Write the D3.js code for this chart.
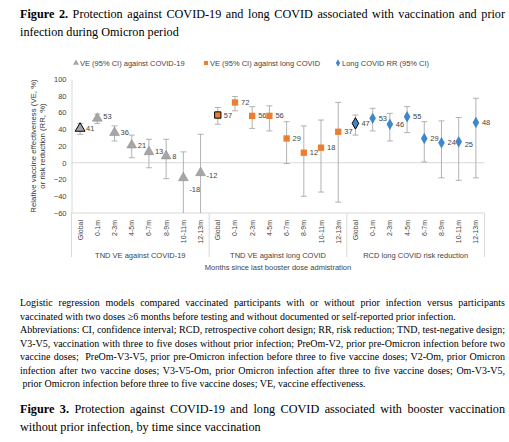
<!DOCTYPE html>
<html>
<head>
<meta charset="utf-8">
<script src="https://d3js.org/d3.v7.min.js"></script>
<style>
body { margin:0; background:#fff; }
.p { font-family:"Liberation Serif", serif; font-size:10px; color:#000; position:absolute; left:20px; width:485px; line-height:13.5px; text-align:justify; }
.t { font-size:12.2px; line-height:18px; }
</style>
</head>
<body>
<div class="p t" style="top:5px"><b>Figure 2.</b> Protection against COVID-19 and long COVID associated with vaccination and prior infection during Omicron period</div>
<div id="chart" style="position:absolute;left:0;top:50px"></div>
<div class="p" style="top:296px">Logistic regression models compared vaccinated participants with or without prior infection versus participants vaccinated with two doses &ge;6 months before testing and without documented or self-reported prior infection.<br>Abbreviations: CI, confidence interval; RCD, retrospective cohort design; RR, risk reduction; TND, test-negative design; V3-V5, vaccination with three to five doses without prior infection; PreOm-V2, prior pre-Omicron infection before two vaccine doses; &nbsp;PreOm-V3-V5, prior pre-Omicron infection before three to five vaccine doses; V2-Om, prior Omicron infection after two vaccine doses; V3-V5-Om, prior Omicron infection after three to five vaccine doses; Om-V3-V5, &nbsp;prior Omicron infection before three to five vaccine doses; VE, vaccine effectiveness.</div>
<div class="p t" style="top:400px"><b>Figure 3.</b> Protection against COVID-19 and long COVID associated with booster vaccination without prior infection, by time since vaccination</div>
<script>
var periods = ["Global","0-1m","2-3m","4-5m","6-7m","8-9m","10-11m","12-13m"];
var groups = ["TND VE against COVID-19","TND VE against long COVID","RCD long COVID risk reduction"];
var legendNames = ["VE (95% CI) against COVID-19","VE (95% CI) against long COVID","Long COVID RR (95% CI)"];
var covidVal = [41,53,36,21,13,8,-18,-12];
var covidLo  = [34,47,26,6,-6,-19,-60,-60];
var covidHi  = [47,58,44,33,28,28,13,34];
var longVal = [57,72,56,56,29,12,18,37];
var longLo  = [46,62,41,38,-1,-40,-35,-47];
var longHi  = [66,79,67,68,49,44,51,72];
var rrVal = [47,53,46,55,29,24,25,48];
var rrLo  = [33,38,26,36,1,-18,-21,-18];
var rrHi  = [57,65,59,67,49,50,54,77];
var yTicks = [100,80,60,40,20,0,-20,-40,-60];

var w = 509, h = 240;
var svg = d3.select("#chart").append("svg").attr("width", w).attr("height", h)
  .style("font-family","Liberation Sans, Arial, sans-serif");

var keys = [];
groups.forEach(function(g, gi){ periods.forEach(function(p){ keys.push(gi + "|" + p); }); });
var x = d3.scaleBand().domain(keys).range([71.5, 484.5]);
var y = d3.scaleLinear().domain([-60,100]).range([163, 29]);

var ya = svg.append("g").attr("transform","translate(71.5,0)")
  .call(d3.axisLeft(y).tickValues(yTicks).tickSize(0).tickPadding(5));
ya.select(".domain").attr("stroke","#d9d9d9");
ya.selectAll("text").attr("font-size","7.5px").attr("fill","#444");
svg.append("line").attr("x1",71.5).attr("x2",484.5).attr("y1",y(0)).attr("y2",y(0)).attr("stroke","#d9d9d9");

svg.append("line").attr("x1",71.5).attr("x2",484.5).attr("y1",163).attr("y2",163).attr("stroke","#d9d9d9");
keys.forEach(function(k){
  var cx = x(k) + x.bandwidth()/2;
  svg.append("text").attr("transform","translate(" + (cx+2.5) + ",170) rotate(-90)")
    .attr("text-anchor","end").attr("font-size","7px").attr("fill","#444").text(k.split("|")[1]);
});
[0,1,2,3].forEach(function(i){
  var xx = i < 3 ? x(i + "|Global") : 484.5;
  svg.append("line").attr("x1",xx).attr("x2",xx).attr("y1",163).attr("y2",207).attr("stroke","#d9d9d9");
});
groups.forEach(function(g, gi){
  var x0 = x(gi + "|Global"), x1 = x(gi + "|12-13m") + x.bandwidth();
  svg.append("text").attr("x",(x0+x1)/2).attr("y",208).attr("text-anchor","middle")
    .attr("font-size","7.5px").attr("fill","#444").text(g);
});
svg.append("text").attr("x",278).attr("y",220).attr("text-anchor","middle")
  .attr("font-size","7.5px").attr("fill","#444").text("Months since last booster dose admistration");
svg.append("text").attr("transform","translate(36,96) rotate(-90)").attr("text-anchor","middle")
  .attr("font-size","7.8px").attr("fill","#333")
  .selectAll("tspan").data(["Relative vaccine effectiveness (VE, %)","or risk reduction (RR, %)"]).enter()
  .append("tspan").attr("x",0).attr("dy",function(d,i){return i?"9px":0;}).text(function(d){return d;});

var series = [
  {vals:covidVal, lo:covidLo, hi:covidHi, shape:d3.symbolTriangle, color:"#a6a6a6", size:42},
  {vals:longVal, lo:longLo, hi:longHi, shape:d3.symbolSquare, color:"#ed7d31", size:40},
  {vals:rrVal, lo:rrLo, hi:rrHi, shape:d3.symbolDiamond, color:"#3f87c9", size:38}
];
var labelDy = {"0|10-11m":12, "0|12-13m":3, "2|10-11m":3, "0|0-1m":-2};
series.forEach(function(s, gi){
  periods.forEach(function(p, i){
    var k = gi + "|" + p, cx = x(k) + x.bandwidth()/2;
    var lo = Math.max(s.lo[i], -60);
    var g = svg.append("g").attr("stroke","#a0a0a0").attr("stroke-width",0.8);
    g.append("line").attr("x1",cx).attr("x2",cx).attr("y1",y(lo)).attr("y2",y(s.hi[i]));
    g.append("line").attr("x1",cx-3).attr("x2",cx+3).attr("y1",y(s.hi[i])).attr("y2",y(s.hi[i]));
    if (s.lo[i] > -60) g.append("line").attr("x1",cx-3).attr("x2",cx+3).attr("y1",y(lo)).attr("y2",y(lo));
    svg.append("path").attr("d", d3.symbol().type(s.shape).size(s.size)())
      .attr("transform","translate(" + cx + "," + y(s.vals[i]) + ")")
      .attr("fill", s.color).attr("stroke", i==0 ? "#000" : (gi==0?"#888":"none")).attr("stroke-width", i==0?1:0.5);
    svg.append("text").attr("x", cx + 6).attr("y", y(s.vals[i]) + 2.5 + (labelDy[k]||0))
      .attr("font-size","7.5px").attr("fill","#444").text(s.vals[i]);
  });
});

var lx = [76, 206, 338];
series.forEach(function(s, i){
  svg.append("path").attr("d", d3.symbol().type(s.shape).size(16)())
    .attr("transform","translate(" + lx[i] + ",13)").attr("fill", s.color);
  svg.append("text").attr("x", lx[i] + 4).attr("y", 15.5).attr("font-size","7.5px").attr("fill","#444").text(legendNames[i]);
});
</script>
</body>
</html>
